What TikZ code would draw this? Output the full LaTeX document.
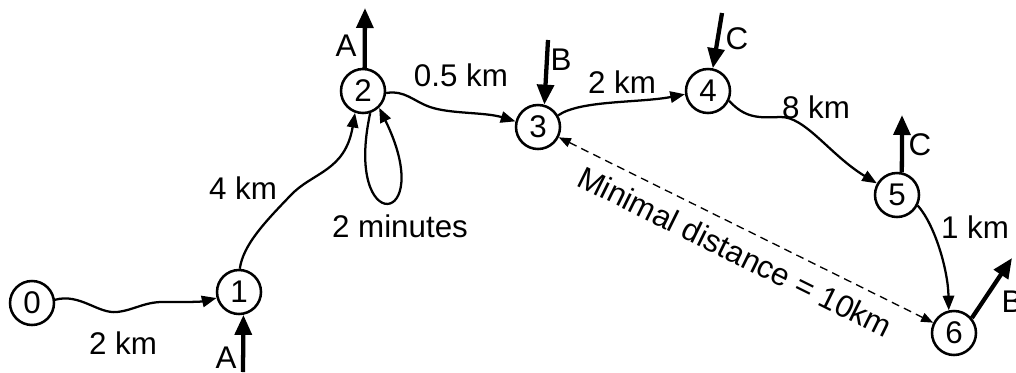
\documentclass[tikz,border=0pt]{standalone}
\usepackage{fontspec}
\setmainfont{Liberation Sans}
\usetikzlibrary{arrows.meta}
\begin{document}
\begin{tikzpicture}[x=0.75pt,y=-0.75pt,
  state/.style={circle,draw,line width=1.9pt,minimum size=33pt,inner sep=0pt,font=\fontsize{23.5}{27}\selectfont},
  lbl/.style={inner sep=1pt,font=\fontsize{23.5}{27}\selectfont},
  route/.style={line width=1.7pt,-{Triangle[length=11pt,width=8.5pt]}},
  flow/.style={line width=3.2pt,-{Triangle[length=15pt,width=12.5pt]}},
  gap/.style={line width=1pt,dash pattern=on 6pt off 4pt,
    {Triangle[length=9pt,width=7pt]}-{Triangle[length=9pt,width=7pt]}}]
\useasboundingbox (0,0) rectangle (1016,372);

% stops
\node[state] (n0) at (32,303) {0};
\node[state] (n1) at (239,292) {1};
\node[state] (n2) at (363,91) {2};
\node[state] (n3) at (538,127) {3};
\node[state] (n4) at (708,91) {4};
\node[state] (n5) at (897,195) {5};
\node[state] (n6) at (954,333) {6};

% routes between stops
\draw[route] (n0.8) .. controls (80,293) and (98,314) .. (117,312)
  .. controls (135,310) and (145,301) .. (167,302)
  .. controls (185,302) and (200,302) .. (n1.195);
\draw[route] (n1.88) .. controls (243,245) and (265,222) .. (290,196)
  .. controls (312,172) and (345,172) .. (n2.250);
\draw[route] (n2.288) .. controls (343,238) and (438,228) .. (n2.314);
\draw[route] (n2.355) .. controls (405,90) and (413,101) .. (430,107)
  .. controls (450,114) and (485,112) .. (n3.166);
\draw[route] (n3.30) .. controls (580,100) and (640,103) .. (n4.188);
\draw[route] (n4.335) .. controls (745,118) and (758,118) .. (780,117)
  .. controls (805,116) and (830,155) .. (n5.150);
\draw[route] (n5.333) .. controls (935,225) and (948,270) .. (n6.103);

% distance between 3 and 6
\draw[gap] (n3) -- (n6)
  node[lbl,sloped,midway,below=8pt] (dist) {Minimal distance = 10km};

% route labels
\node[lbl] (l01) at (123,343) {2 km};
\node[lbl] (l12) at (243,188) {4 km};
\node[lbl] (l22) at (400,226) {2 minutes};
\node[lbl] (l23) at (461,75) {0.5 km};
\node[lbl] (l34) at (622,82) {2 km};
\node[lbl] (l45) at (816,107) {8 km};
\node[lbl] (l56) at (975,227) {1 km};

% boarding and alighting flows
\coordinate (a1) at (243,372);
\coordinate (a2) at (365,8);
\coordinate (b3) at (548,40);
\coordinate (c4) at (722,13);
\coordinate (c5) at (902,115);
\coordinate (b6) at (1012,258);
\draw[flow] (a1) -- (n1.281);
\draw[flow] (n2.86) -- (a2);
\draw[flow] (b3) -- (n3.74);
\draw[flow] (c4) -- (n4.78);
\draw[flow] (n5.78) -- (c5);
\draw[flow] (n6.40) -- (b6);

\node[lbl] (fa1) at (226,358) {A};
\node[lbl] (fa2) at (346,46) {A};
\node[lbl] (fb3) at (561,60) {B};
\node[lbl] (fc4) at (737,39) {C};
\node[lbl] (fc5) at (920,145) {C};
\node[lbl] (fb6) at (1012,302) {B};
\end{tikzpicture}
\end{document}
